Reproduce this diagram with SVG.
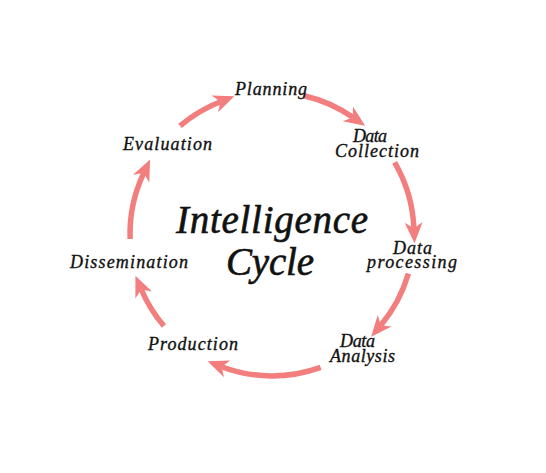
<svg xmlns="http://www.w3.org/2000/svg" width="546" height="473" viewBox="0 0 546 473">
<style>
.arc{fill:none;stroke:#F27E7E;stroke-width:5.5;marker-end:url(#ah)}
.lbl{font-family:"Liberation Serif","Times New Roman",serif;font-style:italic;font-size:18px;fill:#111;stroke:#111;stroke-width:0.35}
.ttl{font-family:"Liberation Serif","Times New Roman",serif;font-style:italic;font-size:39px;fill:#111;stroke:#111;stroke-width:0.6}
</style>
<defs>
<marker id="ah" markerUnits="userSpaceOnUse" orient="auto" refX="0" refY="0" markerWidth="30" markerHeight="30" overflow="visible">
<path d="M15,0 L-6,-9 L0,0 L-6,9 Z" fill="#F27E7E"/>
</marker>
</defs>
<rect width="546" height="473" fill="#fff"/>
<g id="connectors">
<path class="arc" d="M180,125.9 A142,142 0 0 1 220.4,101.7"/>
<path class="arc" d="M304.2,95.7 A142,142 0 0 1 352.8,117.3"/>
<path class="arc" d="M394.6,162.4 A142,142 0 0 1 413.9,228.3"/>
<path class="arc" d="M408.4,273.6 A142,142 0 0 1 380.8,325.3"/>
<path class="arc" d="M320.6,367.4 A142,142 0 0 1 221.6,366.7"/>
<path class="arc" d="M163.9,326 A142,142 0 0 1 141.3,289.5"/>
<path class="arc" d="M130.1,239 A142,142 0 0 1 143.7,173.1"/>
</g>
<g id="title">
<text class="ttl" x="176" y="233" textLength="192" lengthAdjust="spacing">Intelligence</text>
<text class="ttl" x="226" y="275" textLength="88" lengthAdjust="spacing">Cycle</text>
</g>
<g id="planning"><text class="lbl" x="235" y="95" textLength="72" lengthAdjust="spacing">Planning</text></g>
<g id="data-collection">
<text class="lbl" x="353" y="142" textLength="34" lengthAdjust="spacing">Data</text>
<text class="lbl" x="335" y="157" textLength="84" lengthAdjust="spacing">Collection</text>
</g>
<g id="data-processing">
<text class="lbl" x="393" y="254" textLength="39" lengthAdjust="spacing">Data</text>
<text class="lbl" x="367" y="268" textLength="90" lengthAdjust="spacing">processing</text>
</g>
<g id="data-analysis">
<text class="lbl" x="340" y="347" textLength="35" lengthAdjust="spacing">Data</text>
<text class="lbl" x="330" y="362" textLength="65" lengthAdjust="spacing">Analysis</text>
</g>
<g id="production"><text class="lbl" x="148" y="350" textLength="90" lengthAdjust="spacing">Production</text></g>
<g id="dissemination"><text class="lbl" x="70" y="268" textLength="118" lengthAdjust="spacing">Dissemination</text></g>
<g id="evaluation"><text class="lbl" x="123" y="150" textLength="89" lengthAdjust="spacing">Evaluation</text></g>
</svg>
